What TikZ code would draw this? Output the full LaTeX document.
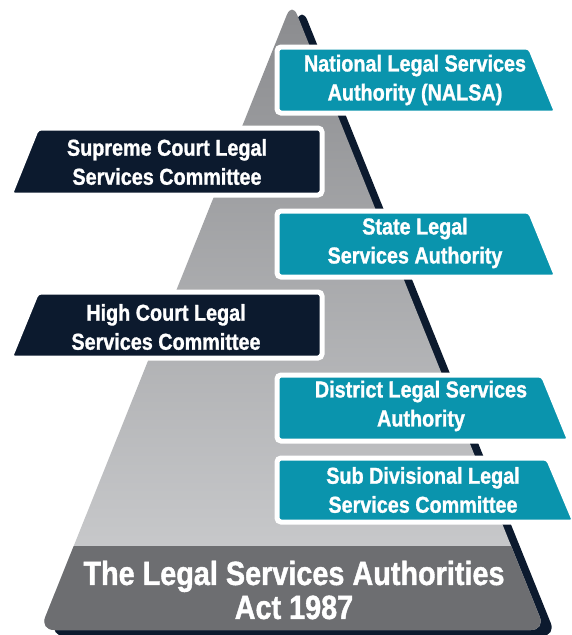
\documentclass[tikz,border=0pt]{standalone}
\usepackage{fontspec}
\setmainfont{Liberation Sans}[FakeStretch=0.86,FakeBold=1.2]
\usepackage{tikz}
\usetikzlibrary{positioning}

\definecolor{tealc}{RGB}{10,148,173}
\definecolor{navyc}{RGB}{12,26,46}
\definecolor{actc}{RGB}{109,110,113}
\definecolor{topg}{RGB}{138,139,142}
\definecolor{botg}{RGB}{208,209,211}

\begin{document}
\begin{tikzpicture}[x=1pt,y=-1pt,
  tealbox/.style={fill=tealc,draw=white,line width=5pt,rounded corners=4},
  navybox/.style={fill=navyc,draw=white,line width=5pt,rounded corners=4},
  lbl/.style={text=white,align=center,font=\fontsize{23}{29}\selectfont\bfseries},
  actlbl/.style={text=white,align=center,font=\fontsize{33.5}{34}\selectfont\bfseries}]
\useasboundingbox (0,0) rectangle (572,635);

% pyramid with its shadow
\fill[navyc,rounded corners=14] (50,636) -- (302,7) -- (556,636) -- cycle;
\shade[top color=topg,bottom color=botg,rounded corners=14]
  (40,630) -- (292,2) -- (545,630) -- cycle;
\begin{scope}
  \clip[rounded corners=14] (40,630) -- (292,2) -- (545,630) -- cycle;
  \fill[actc] (0,546) rectangle (572,640);
\end{scope}

% right hand boxes
\path[tealbox] (277,47) -- (530,47) -- (557,113) -- (277,113) -- cycle;
\path[tealbox] (277,211) -- (530,211) -- (557,277) -- (277,277) -- cycle;
\path[tealbox] (277,375) -- (543,375) -- (570,441) -- (277,441) -- cycle;
\path[tealbox] (277,458) -- (548,458) -- (575,522) -- (277,522) -- cycle;

% left hand boxes
\path[navybox] (37,128) -- (322,128) -- (322,195) -- (10,195) -- cycle;
\path[navybox] (37,292) -- (322,292) -- (322,358) -- (10,358) -- cycle;

\node[lbl] (nalsa) at (415,80) {National Legal Services\\Authority (NALSA)};
\node[lbl] (sclsc) at (167,162) {Supreme Court Legal\\Services Committee};
\node[lbl] (slsa) at (415,243) {State Legal\\Services Authority};
\node[lbl] (hclsc) at (166,327) {High Court Legal\\Services Committee};
\node[lbl] (dlsa) at (421,406) {District Legal Services\\Authority};
\node[lbl] (sdlsc) at (423,490) {Sub Divisional Legal\\Services Committee};
\node[actlbl] (act) at (294,590) {The Legal Services Authorities\\Act 1987};
\end{tikzpicture}
\end{document}
